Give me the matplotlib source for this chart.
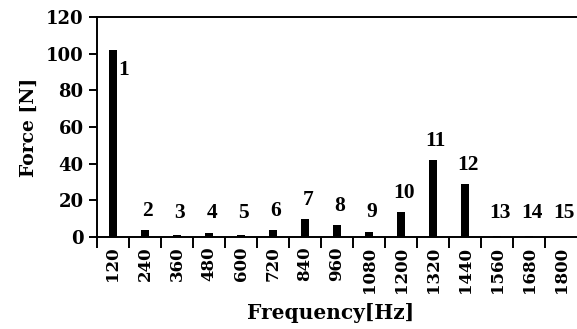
import matplotlib
matplotlib.use("Agg")
import matplotlib.pyplot as plt
import numpy as np

freqs = ["120", "240", "360", "480", "600", "720", "840", "960", "1080",
         "1200", "1320", "1440", "1560", "1680", "1800"]
forces = [102, 4, 1, 2, 1, 4, 10, 6.5, 3, 13.5, 42, 29, 0.6, 0.6, 0]
orders = [str(i) for i in range(1, 16)]

plt.rcParams['font.family'] = ['DejaVu Serif']
plt.rcParams['font.weight'] = 'bold'

fig = plt.figure(figsize=(5.77, 3.29), dpi=100)
ax = fig.add_axes([0.168, 0.2796, 0.838, 0.6684])

x = np.arange(len(freqs))
ax.bar(x, forces, width=0.25, color='black')

lab_font = dict(family=['Liberation Serif', 'DejaVu Serif'], fontsize=15.5,
                fontweight='bold')
for xi, v, lab in zip(x, forces, orders):
    if xi == 0:
        ax.text(xi + 0.17, 91, lab, ha='left', va='center', **lab_font)
    else:
        ax.text(xi + 0.08, max(v + 5, 7.5), lab, ha='center', va='bottom',
                **lab_font)

ax.set_xlim(-0.5, len(freqs) - 0.4)
ax.set_ylim(0, 120)
ax.set_yticks(np.arange(0, 121, 20))
ax.set_xticks(x)
ax.set_xticklabels(freqs, rotation=90, fontsize=12, fontweight='bold')
ax.set_xticks(x - 0.5, minor=True)
ax.tick_params(axis='x', which='major', length=0, pad=7)
ax.tick_params(axis='x', which='minor', length=8, width=1.4, direction='out')
ax.tick_params(axis='y', length=6, width=1.4, direction='out', labelsize=13)
for t in ax.get_yticklabels():
    t.set_fontweight('bold')

ax.spines['right'].set_visible(False)
for s in ['left', 'top', 'bottom']:
    ax.spines[s].set_linewidth(1.4)

ax.set_ylabel('Force [N]', fontsize=13.5, fontweight='bold', labelpad=6)
ax.set_xlabel('Frequency[Hz]', fontsize=14.5, fontweight='bold')
ax.xaxis.set_label_coords(0.483, -0.3)

fig.savefig('out.png', dpi=100)
